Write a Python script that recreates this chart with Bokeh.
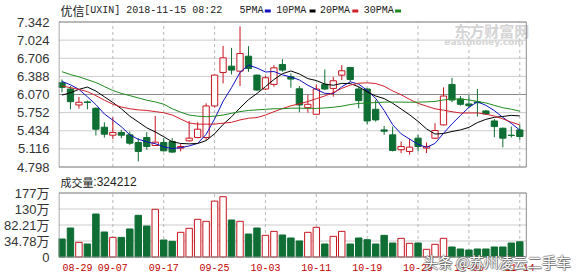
from bokeh.plotting import figure
from bokeh.layouts import column
from bokeh.models import FixedTicker, ColumnDataSource, PrintfTickFormatter, Range1d
from bokeh.embed import file_html
from bokeh.resources import INLINE
from bokeh.core.properties import value

# ---------------- data ----------------
dates = ["08-29", "08-30", "08-31", "09-04", "09-05", "09-06", "09-07", "09-10", "09-11", "09-12",
         "09-13", "09-14", "09-17", "09-18", "09-19", "09-20", "09-21", "09-24", "09-25", "09-26",
         "09-27", "09-28", "10-01", "10-02", "10-03", "10-04", "10-05", "10-08", "10-09", "10-10",
         "10-11", "10-12", "10-15", "10-16", "10-17", "10-18", "10-19", "10-22", "10-23", "10-24",
         "10-25", "10-26", "10-29", "10-30", "10-31", "11-01", "11-02", "11-05", "11-06", "11-07",
         "11-08", "11-09", "11-12", "11-13", "11-14"]

opens = [6.276, 6.166, 5.886, 5.940, 5.828, 5.496, 5.356, 5.403, 5.362, 5.228,
         5.315, 5.175, 5.228, 5.245, 5.129, 5.257, 5.315, 5.315, 5.869, 6.457,
         6.567, 6.480, 6.742, 6.410, 6.166, 6.247, 6.597, 6.381, 6.170, 5.839,
         5.723, 6.247, 6.177, 6.410, 6.544, 6.166, 6.166, 5.810, 5.449, 5.362,
         5.100, 5.071, 5.304, 5.129, 5.304, 5.537, 6.247, 5.991, 5.904, 5.940,
         5.781, 5.606, 5.478, 5.356, 5.449]
highs = [6.334, 6.218, 6.026, 5.962, 5.845, 5.583, 5.671, 5.449, 5.420, 5.304,
         5.408, 5.694, 5.304, 5.304, 5.205, 5.606, 5.583, 5.915, 6.420, 6.923,
         6.888, 7.266, 6.917, 6.420, 6.393, 6.585, 6.690, 6.439, 6.220, 6.061,
         6.247, 6.509, 6.381, 6.585, 6.556, 6.206, 6.177, 5.973, 5.519, 5.508,
         5.245, 5.292, 5.362, 5.228, 5.566, 6.195, 6.364, 6.043, 6.061, 6.166,
         5.799, 5.641, 5.490, 5.508, 5.537]
lows = [6.107, 5.810, 5.822, 5.810, 5.350, 5.315, 5.286, 5.304, 5.187, 4.896,
        5.100, 5.175, 5.071, 5.042, 5.071, 5.245, 5.304, 5.275, 5.840, 6.265,
        6.422, 6.218, 6.468, 6.130, 6.148, 6.206, 6.468, 6.189, 5.758, 5.752,
        5.711, 6.148, 6.032, 6.323, 6.294, 5.828, 5.548, 5.595, 5.362, 5.071,
        5.042, 5.013, 5.071, 5.042, 5.292, 5.525, 5.933, 5.874, 5.828, 5.682,
        5.711, 5.321, 5.141, 5.315, 5.275]
closes = [6.195, 5.944, 5.933, 5.930, 5.461, 5.374, 5.403, 5.356, 5.216, 5.071,
          5.158, 5.234, 5.082, 5.059, 5.158, 5.304, 5.461, 5.869, 6.410, 6.713,
          6.498, 6.789, 6.527, 6.148, 6.364, 6.538, 6.498, 6.340, 5.886, 5.898,
          6.166, 6.166, 6.311, 6.486, 6.334, 5.962, 5.606, 5.624, 5.426, 5.088,
          5.158, 5.146, 5.158, 5.158, 5.438, 6.043, 5.973, 5.898, 5.874, 5.925,
          5.729, 5.507, 5.304, 5.350, 5.333]

ma5 = [6.30, 6.24, 6.16, 6.03, 5.893, 5.728, 5.620, 5.505, 5.362, 5.284,
       5.241, 5.207, 5.152, 5.121, 5.138, 5.167, 5.213, 5.370, 5.640, 5.951,
       6.190, 6.456, 6.587, 6.535, 6.465, 6.473, 6.415, 6.378, 6.325, 6.232,
       6.158, 6.091, 6.085, 6.205, 6.293, 6.252, 6.140, 6.002, 5.790, 5.541,
       5.380, 5.288, 5.195, 5.142, 5.212, 5.389, 5.554, 5.702, 5.845, 5.943,
       5.880, 5.787, 5.668, 5.563, 5.445]
ma10 = [6.06, 6.10, 6.16, 6.20, 6.13, 6.03, 5.93, 5.82, 5.69, 5.588,
        5.485, 5.414, 5.329, 5.241, 5.211, 5.204, 5.210, 5.261, 5.381, 5.545,
        5.679, 5.834, 5.979, 6.088, 6.208, 6.332, 6.435, 6.483, 6.430, 6.349,
        6.315, 6.253, 6.232, 6.265, 6.262, 6.205, 6.116, 6.044, 5.998, 5.917,
        5.816, 5.714, 5.599, 5.466, 5.376, 5.385, 5.421, 5.449, 5.493, 5.577,
        5.634, 5.670, 5.685, 5.704, 5.694]
ma20 = [6.22, 6.19, 6.16, 6.12, 6.05, 5.97, 5.90, 5.85, 5.82, 5.80,
        5.79, 5.77, 5.75, 5.71, 5.64, 5.57, 5.55, 5.55, 5.55, 5.567,
        5.582, 5.624, 5.654, 5.665, 5.710, 5.768, 5.823, 5.872, 5.905, 5.947,
        5.997, 6.044, 6.105, 6.177, 6.235, 6.268, 6.275, 6.263, 6.214, 6.133,
        6.066, 5.984, 5.915, 5.866, 5.819, 5.795, 5.768, 5.746, 5.746, 5.747,
        5.725, 5.692, 5.642, 5.585, 5.535]
ma30 = [6.47, 6.42, 6.38, 6.33, 6.28, 6.21, 6.14, 6.09, 6.05, 6.01,
        5.97, 5.94, 5.90, 5.82, 5.76, 5.71, 5.69, 5.68, 5.69, 5.71,
        5.74, 5.77, 5.79, 5.80, 5.81, 5.82, 5.82, 5.83, 5.83, 5.827,
        5.826, 5.834, 5.846, 5.865, 5.894, 5.914, 5.920, 5.929, 5.936, 5.937,
        5.937, 5.934, 5.936, 5.940, 5.949, 5.974, 5.991, 5.992, 5.974, 5.948,
        5.922, 5.879, 5.838, 5.812, 5.777]

# volume in 万 shares
volumes = [40.7, 73.3, 30.8, 25.9, 114.8, 61.5, 45.6, 45.6, 70.4, 110.9,
           79.2, 128.7, 37.7, 33.8, 60.5, 72.3, 99.0, 93.1, 153.0, 166.0,
           97.0, 93.1, 55.5, 73.3, 51.6, 63.4, 52.6, 43.7, 34.8, 60.5,
           75.3, 25.9, 48.6, 63.4, 25.9, 43.7, 38.7, 25.9, 51.6, 28.8,
           42.7, 27.9, 28.8, 10.1, 24.9, 42.7, 17.0, 11.1, 8.1, 11.1,
           11.1, 17.0, 17.0, 28.8, 32.4]

price_ticks = [4.798, 5.116, 5.434, 5.752, 6.070, 6.388, 6.706, 7.024, 7.342]
vol_ticks = [-12.65, 34.78, 82.21, 129.64, 177.07]
vol_tick_labels = ["0", "34.78万", "82.21万", "130万", "177万"]
date_tick_labels = ["08-29", "09-07", "09-17", "09-25", "10-03", "10-11", "10-19", "10-29", "11-06", "11-14"]
ma_names = ["5PMA", "10PMA", "20PMA", "30PMA"]
stock_name = "优信"
title_rest = "[UXIN] 2018-11-15 08:22"
vol_name = "成交量"
vol_value = ":324212"
watermark_top = "东方财富网"
watermark_sub = "eastmoney.com"
toutiao = "头条 @苏州凌云二手车"

# ---------------- styles / layout helpers ----------------
GREEN = "#0f6e34"
RED = "#c8141e"
MA_COLORS = ["#1010c0", "#000000", "#d01f2a", "#1e8a1e"]
GRID = "#cccccc"
VGRID = "#b8b8b8"
FRAME = "#8c8c8c"
MONO = "'Liberation Mono', 'Noto Sans CJK SC', monospace"
SANS = "'Liberation Sans', 'Noto Sans CJK SC', sans-serif"
CJK = "'Noto Sans CJK SC', sans-serif"

W = 578
PX0, K = 58.5, 8.527          # pixel of bar 0 and pixels per bar
LEFT = 55                     # left border (axis labels)
H1, H2 = 174, 102             # heights of the two panels
FR_L, FR_R = 55.5, 525.5      # frame lines (pixels)
P_TOP, P_BOT = 21.5, 166.5    # price frame lines (panel-1 pixels)
V_TOP, V_BOT = 18.5, 82.5     # volume frame lines (panel-2 pixels)


def ix(px):
    return (px - PX0) / K


q = (price_ticks[-1] - price_ticks[0]) / (P_BOT - P_TOP)


def py(pix):
    return price_ticks[-1] - (pix - P_TOP) * q


r = (vol_ticks[-1] - vol_ticks[0]) / (V_BOT - V_TOP)


def vy(pix):
    return vol_ticks[-1] - (pix - V_TOP) * r


idx = list(range(len(dates)))
is_up = [c >= o for o, c in zip(opens, closes)]
src = ColumnDataSource(dict(
    x=idx, o=opens, h=highs, l=lows, c=closes,
    top=[max(o, c) for o, c in zip(opens, closes)],
    bot=[min(o, c) for o, c in zip(opens, closes)],
    color=[RED if u else GREEN for u in is_up],
    fill=["#ffffff" if u else GREEN for u in is_up],
    vol=volumes,
))

grid_pos = [dates.index(d) for d in date_tick_labels[1:]]
xr = Range1d(ix(LEFT), ix(W))
XL, XR = ix(FR_L), ix(FR_R)


def style_axis(ax, font, size):
    ax.axis_line_color = None
    ax.major_tick_line_color = None
    ax.minor_tick_line_color = None
    ax.major_label_standoff = 3
    ax.major_label_text_font = font
    ax.major_label_text_font_size = size
    ax.major_label_text_color = "#333333"


def frame_box(p, y0, y1):
    p.segment(x0=[XL, XR, XL, XL], x1=[XL, XR, XR, XR], y0=[y0, y0, y0, y1], y1=[y1, y1, y0, y1],
              line_color=FRAME, line_width=1)


# ---------------- price panel ----------------
p1 = figure(width=W, height=H1, x_range=xr, y_range=Range1d(py(H1), py(0)),
            output_backend="svg", toolbar_location=None, x_axis_location=None,
            min_border_left=LEFT, min_border_right=0, min_border_top=0, min_border_bottom=0)
p1.outline_line_color = None
p1.grid.visible = False
p1.yaxis.ticker = FixedTicker(ticks=price_ticks)
p1.yaxis.formatter = PrintfTickFormatter(format="%.3f")
style_axis(p1.yaxis[0], "Liberation Sans", "13px")

# grid
p1.segment(x0=XL, x1=XR, y0=price_ticks, y1=price_ticks, line_color=GRID, line_width=1)
p1.segment(x0=XL, x1=XR, y0=price_ticks[4], y1=price_ticks[4], line_color="#8a8a8a", line_width=1)
p1.segment(x0=grid_pos, x1=grid_pos, y0=price_ticks[0], y1=price_ticks[-1],
           line_color=VGRID, line_dash="3 3", line_width=1)

# watermark
p1.text(x=[ix(453)], y=[py(29.5)], text=[watermark_top], text_font=value(CJK),
        text_font_size=value("15px"), text_font_style="bold", text_color="#d4d4d4",
        text_baseline="middle")
p1.text(x=[ix(443)], y=[py(41.5)], text=[watermark_sub], text_font=value("DejaVu Sans"),
        text_font_size=value("9px"), text_font_style="bold", text_color="#d4d4d4",
        text_baseline="middle")

# candles
p1.segment(x0="x", y0="l", x1="x", y1="h", color="color", line_width=1, source=src)
p1.vbar(x="x", width=0.74, top="top", bottom="bot", fill_color="fill", line_color="color",
        line_width=1, source=src)

for m, col in zip([ma5, ma10, ma20, ma30], MA_COLORS):
    p1.line(idx, m, line_color=col, line_width=1)

frame_box(p1, price_ticks[0], price_ticks[-1])

# title + legend
ty = py(10)
p1.text(x=[ix(57)], y=[ty], text=[stock_name], text_font=value(CJK), text_font_size=value("12px"),
        text_color="#222222", text_baseline="middle")
p1.text(x=[ix(81)], y=[ty], text=[title_rest], text_font=value(MONO), text_font_size=value("10px"),
        text_color="#222222", text_baseline="middle")
leg_px = [237, 274, 318, 362]
dash_px = [265.5, 310.5, 353.5, 396.5]
p1.text(x=[ix(v) for v in leg_px], y=[ty] * 4, text=ma_names, text_font=value(MONO),
        text_font_size=value("10px"), text_color="#222222", text_baseline="middle")
p1.rect(x=[ix(v) for v in dash_px], y=[py(10.5)] * 4, width=6, height=3, width_units="screen",
        height_units="screen", fill_color=MA_COLORS, line_color=None)

# ---------------- volume panel ----------------
p2 = figure(width=W, height=H2, x_range=xr, y_range=Range1d(vy(H2), vy(0)),
            output_backend="svg", toolbar_location=None, x_axis_location=None,
            min_border_left=LEFT, min_border_right=0, min_border_top=0, min_border_bottom=0)
p2.outline_line_color = None
p2.grid.visible = False
p2.yaxis.ticker = FixedTicker(ticks=vol_ticks)
p2.yaxis.major_label_overrides = {t: s for t, s in zip(vol_ticks, vol_tick_labels)}
style_axis(p2.yaxis[0], SANS, "13px")

p2.segment(x0=XL, x1=XR, y0=vol_ticks, y1=vol_ticks, line_color=GRID, line_width=1)
p2.segment(x0=grid_pos, x1=grid_pos, y0=vol_ticks[0], y1=vol_ticks[-1],
           line_color=VGRID, line_dash="3 3", line_width=1)

p2.vbar(x="x", width=0.76, top="vol", bottom=vol_ticks[0], fill_color="fill", line_color="color",
        line_width=1, source=src)
frame_box(p2, vol_ticks[0], vol_ticks[-1])

# volume caption
p2.text(x=[ix(57)], y=[vy(7)], text=[vol_name], text_font=value(CJK), text_font_size=value("11px"),
        text_color="#222222", text_baseline="middle")
p2.text(x=[ix(90)], y=[vy(7)], text=[vol_value], text_font=value("Liberation Sans"),
        text_font_size=value("12px"), text_color="#222222", text_baseline="middle")

# date labels (x tick labels)
label_pos = [dates.index(d) for d in date_tick_labels]
label_pos[0] = ix(74)  # first label kept inside the frame
p2.text(x=label_pos, y=[vy(92.5)] * len(label_pos), text=date_tick_labels, text_font=value(MONO),
        text_font_size=value("10px"), text_color="#c00000", text_baseline="middle", text_align="center")

# toutiao watermark (white text with dark outline)
wy = vy(86.5)
for dx, dy in [(-1, 0), (1, 0), (0, -1), (0, 1), (1, 1)]:
    p2.text(x=[ix(422)], y=[wy], x_offset=dx, y_offset=dy, text=[toutiao], text_font=value(CJK),
            text_font_size=value("14.5px"), text_color="#505050", text_alpha=0.5, text_baseline="middle")
p2.text(x=[ix(422)], y=[wy], text=[toutiao], text_font=value(CJK), text_font_size=value("14.5px"),
        text_color="#ffffff", text_baseline="middle")

layout = column(p1, p2, spacing=0)
open("out.html", "w").write(file_html(layout, INLINE))
